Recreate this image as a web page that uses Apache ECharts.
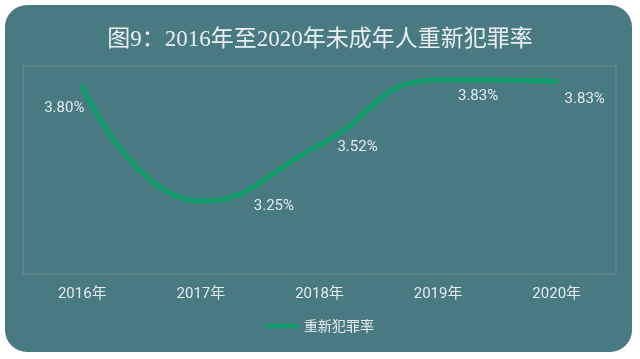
<!DOCTYPE html>
<html>
<head>
<meta charset="utf-8">
<script src="https://cdn.jsdelivr.net/npm/echarts@6/dist/echarts.min.js"></script>
<style>
html,body{margin:0;padding:0;background:#ffffff;}
#chart{width:640px;height:359px;}
</style>
</head>
<body>
<div id="chart"></div>
<script>
const titleText = '图9：2016年至2020年未成年人重新犯罪率';
const seriesName = '重新犯罪率';
const categories = ['2016年', '2017年', '2018年', '2019年', '2020年'];
const values = [3.80, 3.25, 3.52, 3.834, 3.827];

// label placement (style only)
const labelOffsets = [[-18, 21], [73, 5], [38, 2], [40, 17], [28, 18]];

const chart = echarts.init(document.getElementById('chart'));
const textColor = '#e3ecee';
chart.setOption({
  animation: false,
  backgroundColor: '#ffffff',
  graphic: [{
    type: 'rect', z: -10, silent: true,
    shape: {x: 5, y: 5, width: 627, height: 347, r: 22},
    style: {fill: '#497a82'}
  }],
  title: {
    text: titleText, left: 'center', top: 23,
    textStyle: {color: '#e8f0f1', fontSize: 23, fontWeight: 'normal',
      fontFamily: '"Liberation Serif", "Noto Sans CJK SC", serif'}
  },
  legend: {
    bottom: 21, left: 'center', itemWidth: 33, itemHeight: 4, itemGap: 6,
    icon: 'rect',
    textStyle: {color: textColor, fontSize: 14, fontFamily: '"Noto Sans CJK SC", sans-serif'},
    data: [seriesName]
  },
  grid: {left: 23, right: 24, top: 66, height: 208, show: true,
    borderColor: 'rgba(255,255,255,0.16)', borderWidth: 1, backgroundColor: 'transparent'},
  xAxis: {
    type: 'category', data: categories, boundaryGap: true,
    axisLine: {show: false}, axisTick: {show: false},
    axisLabel: {color: textColor, fontSize: 15, margin: 13, fontFamily: 'Roboto, "Noto Sans CJK SC", sans-serif'}
  },
  yAxis: {type: 'value', min: 2.9, max: 3.9, show: false, splitLine: {show: false}},
  series: [{
    name: seriesName, type: 'line', smooth: 0.5,
    data: values.map((v, i) => ({
      value: v,
      label: {offset: labelOffsets[i]}
    })),
    showSymbol: true, symbol: 'circle', symbolSize: 0,
    lineStyle: {color: '#0f9e69', width: 5, cap: 'round'},
    itemStyle: {color: '#0f9e69'},
    label: {show: true, position: 'inside', color: textColor, fontSize: 15,
      fontFamily: 'Roboto, sans-serif',
      formatter: p => p.value.toFixed(2) + '%'}
  }]
});
</script>
</body>
</html>
